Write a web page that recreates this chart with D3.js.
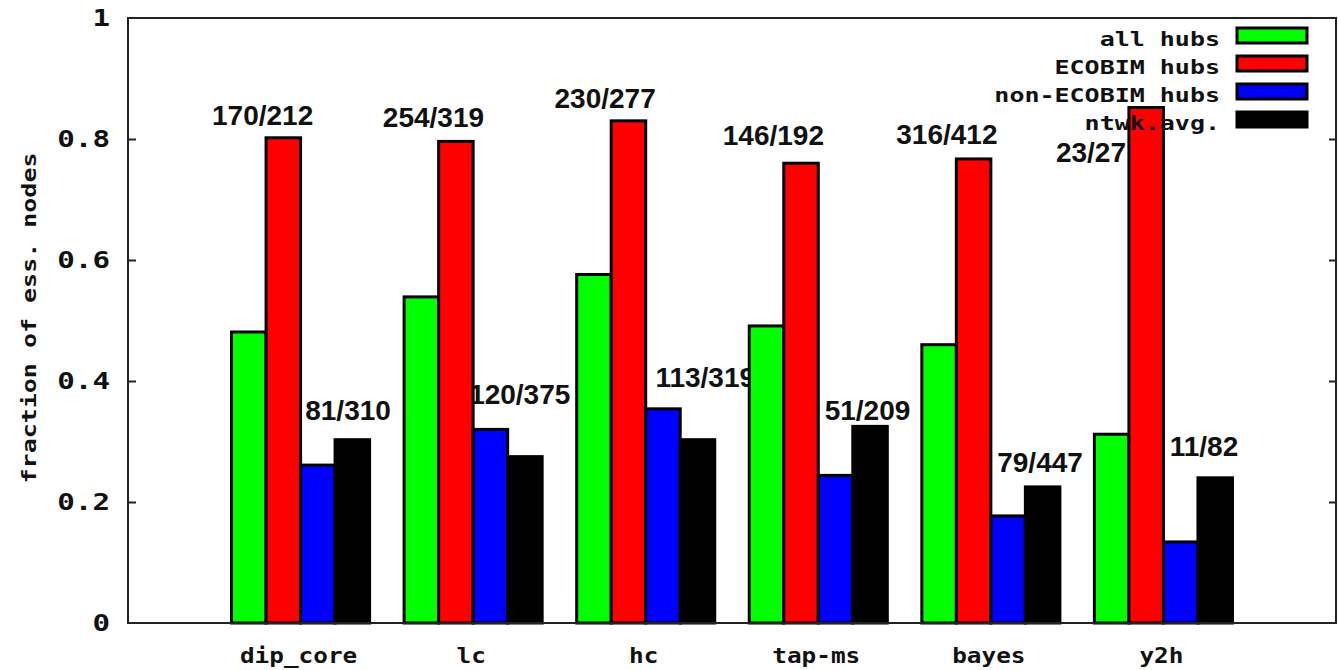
<!DOCTYPE html>
<html>
<head>
<meta charset="utf-8">
<script src="https://cdn.jsdelivr.net/npm/d3@7"></script>
<style>
  html, body { margin: 0; padding: 0; background: #fff; }
  svg { display: block; }
</style>
</head>
<body>
<script>
// ---------------- data ----------------
const categories = ["dip_core", "lc", "hc", "tap-ms", "bayes", "y2h"];
const seriesNames = ["all hubs", "ECOBIM hubs", "non-ECOBIM hubs", "ntwk.avg."];
const allHubs       = [0.481, 0.539, 0.576, 0.491, 0.460, 0.312];
const ecobimHubs    = [0.802, 0.796, 0.830, 0.760, 0.767, 0.852];
const nonEcobimHubs = [0.261, 0.320, 0.354, 0.244, 0.177, 0.134];
const ntwkAvg       = [0.303, 0.275, 0.303, 0.325, 0.225, 0.240];
const ecobimLabels    = ["170/212", "254/319", "230/277", "146/192", "316/412", "23/27"];
const nonEcobimLabels = ["81/310", "120/375", "113/319", "51/209", "79/447", "11/82"];
const yTicks      = [0, 0.2, 0.4, 0.6, 0.8, 1];
const yTickLabels = ["0", "0.2", "0.4", "0.6", "0.8", "1"];
const yTitle = "fraction of ess. nodes";

// label anchors in data coordinates (offset from category index, y value), like gnuplot "set label at"
const ecobimLabelAt    = [[-0.22, 0.823], [-0.23, 0.820], [-0.235, 0.851], [-0.26, 0.790], [-0.255, 0.792], [-0.42, 0.762]];
const nonEcobimLabelAt = [[0.275, 0.336], [0.27, 0.362], [0.345, 0.390], [0.285, 0.336], [0.285, 0.250], [0.235, 0.276]];

// ---------------- layout ----------------
const W = 1338, H = 670;
const mLeft = 128, mRight = 1336, mTop = 18, mBottom = 623;
const colors = ["#00ff00", "#ff0000", "#0000ff", "#000000"];
const seriesValues = [allHubs, ecobimHubs, nonEcobimHubs, ntwkAvg];
const mono = "'DejaVu Sans Mono', 'Liberation Mono', monospace";
const sans = "'Liberation Sans', Arial, Helvetica, sans-serif";

const svg = d3.select("body").append("svg")
  .attr("width", W).attr("height", H)
  .attr("viewBox", `0 0 ${W} ${H}`);
svg.append("rect").attr("width", W).attr("height", H).attr("fill", "#fff");

const x = d3.scaleLinear().domain([-1, categories.length]).range([mLeft, mRight]);
const y = d3.scaleLinear().domain([0, 1]).range([mBottom, mTop]);
const inner = d3.scaleBand().domain(d3.range(seriesNames.length))
  .range([x(-0.4) - x(0), x(0.4) - x(0)]).padding(0);

// wide bitmap-like monospace text (gnuplot default font look)
function monoText(sel, size, sx) {
  return sel.attr("font-family", mono).attr("font-weight", "bold")
    .attr("font-size", size).attr("fill", "#111");
}

// ---------------- axes ----------------
const yAxisL = d3.axisLeft(y).tickValues(yTicks).tickSize(-8).tickPadding(0).tickFormat(() => "");
const gL = svg.append("g").attr("transform", `translate(${mLeft},0)`).call(yAxisL);
gL.select(".domain").remove();
gL.selectAll(".tick line").attr("stroke", "#222").attr("stroke-width", 2)
  .attr("display", d => (d === 0 || d === 1) ? "none" : null);

const yAxisR = d3.axisRight(y).tickValues(yTicks).tickSize(-7).tickFormat(() => "");
const gR = svg.append("g").attr("transform", `translate(${mRight},0)`).call(yAxisR);
gR.select(".domain").remove();
gR.selectAll(".tick line").attr("stroke", "#222").attr("stroke-width", 2)
  .attr("display", d => (d === 0 || d === 1) ? "none" : null);

// tick labels
svg.append("g").selectAll("text").data(yTicks).join("text")
  .attr("transform", d => `translate(110, ${y(d)}) scale(1.27,1)`)
  .attr("dy", "0.36em")
  .attr("text-anchor", "end")
  .call(monoText, 23)
  .text((d, i) => yTickLabels[i]);

// category labels
svg.append("g").selectAll("text").data(categories).join("text")
  .attr("transform", (d, i) => `translate(${x(i) - 2}, 663) scale(1.16,1)`)
  .attr("text-anchor", "middle")
  .call(monoText, 21)
  .text(d => d);

// y title
svg.append("text")
  .attr("transform", `translate(36, 318) rotate(-90) scale(1.25,1)`)
  .attr("text-anchor", "middle")
  .call(monoText, 20)
  .text(yTitle);

// ---------------- value labels (drawn behind bars) ----------------
function drawLabels(labels, at) {
  svg.append("g").selectAll("text").data(labels).join("text")
    .attr("x", (d, i) => x(i + at[i][0]))
    .attr("y", (d, i) => y(at[i][1]))
    .attr("text-anchor", "middle")
    .attr("font-family", sans).attr("font-weight", "bold")
    .attr("font-size", 28)
    .attr("fill", "#111")
    .text(d => d);
}
drawLabels(ecobimLabels, ecobimLabelAt);
drawLabels(nonEcobimLabels, nonEcobimLabelAt);

// ---------------- series: key entry then bars ----------------
const keyTextRight = 1220;
const keyBaselines = [46, 74, 102, 130];
const swX0 = 1237, swX1 = 1307, swH = 15;

seriesNames.forEach((name, s) => {
  const g = svg.append("g");
  g.append("text")
    .attr("transform", `translate(${keyTextRight}, ${keyBaselines[s]}) scale(1.25,1)`)
    .attr("text-anchor", "end")
    .call(monoText, 20)
    .text(name);
  g.append("rect")
    .attr("x", swX0).attr("y", keyBaselines[s] - 18)
    .attr("width", swX1 - swX0).attr("height", swH)
    .attr("fill", colors[s]).attr("stroke", "#000").attr("stroke-width", 3);
  g.selectAll("rect.bar").data(seriesValues[s]).join("rect")
    .attr("class", "bar")
    .attr("x", (d, i) => x(i) + inner(s))
    .attr("width", inner.bandwidth())
    .attr("y", d => y(d))
    .attr("height", d => y(0) - y(d))
    .attr("fill", colors[s])
    .attr("stroke", "#000").attr("stroke-width", 3);
});

// ---------------- border ----------------
svg.append("rect")
  .attr("x", mLeft).attr("y", mTop)
  .attr("width", mRight - mLeft).attr("height", mBottom - mTop)
  .attr("fill", "none").attr("stroke", "#222").attr("stroke-width", 2);
</script>
</body>
</html>
